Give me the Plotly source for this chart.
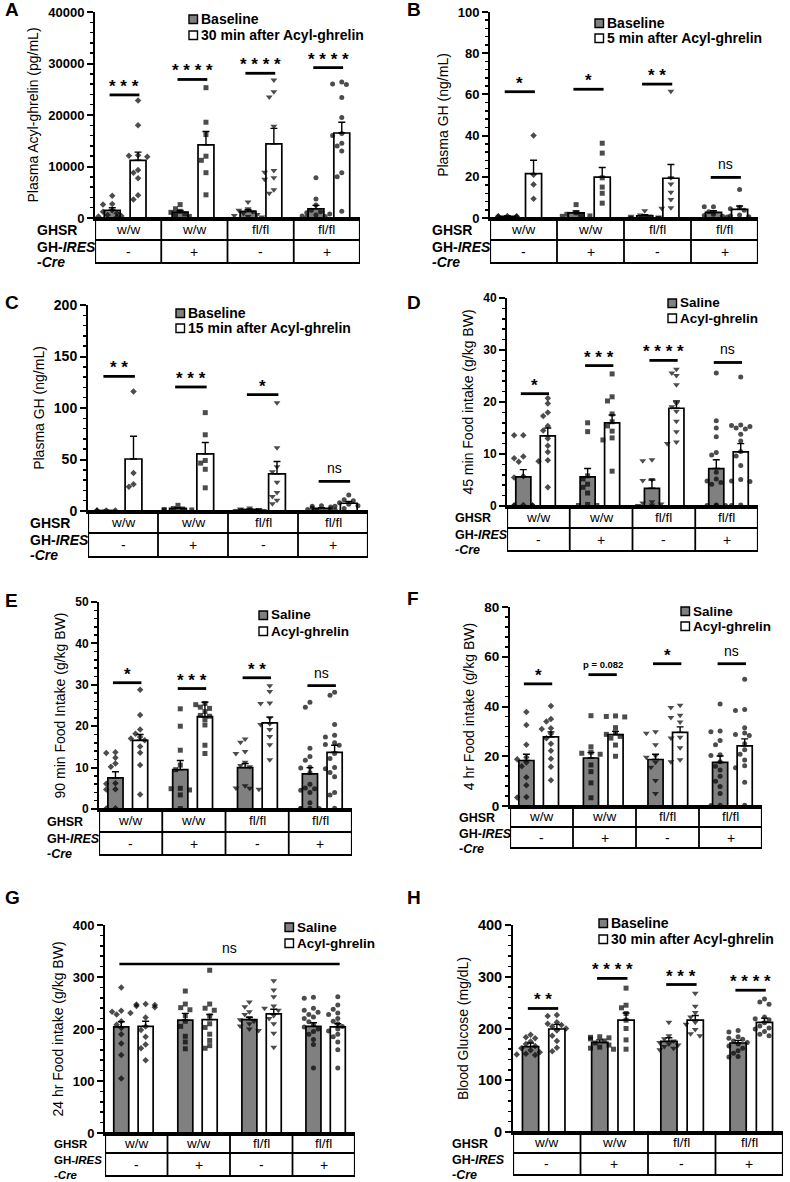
import plotly.graph_objects as go

W, H = 790, 1182
FONT = "Liberation Sans, Arial, sans-serif"

# ---------------- shared table rows ----------------
GHSR = ["w/w", "w/w", "fl/fl", "fl/fl"]
GH_IRES_CRE = ["-", "+", "-", "+"]

# ---------------- Panel A ----------------
A_ylabel = "Plasma Acyl-ghrelin (pg/mL)"
A_series = ["Baseline", "30 min after Acyl-ghrelin"]
A_base_mean = [1500, 1150, 1300, 1800]
A_base_sem = [500, 300, 350, 650]
A_base_pts = [[4300, 2700, 2600, 1500, 1200, 900, 600, 400, 300, 200],
              [2600, 1800, 1300, 1100, 800, 500, 300],
              [3100, 1800, 1500, 1200, 900, 700, 500, 300, 200],
              [7800, 3700, 2500, 1500, 1200, 1000, 800, 600, 400, 300, 200]]
A_trt_mean = [11200, 14200, 14400, 16500]
A_trt_sem = [1600, 2600, 3000, 2100]
A_trt_pts = [[22800, 18000, 12200, 12100, 11900, 9300, 8800, 7700, 4400, 3600],
             [25300, 18600, 16200, 12000, 11200, 8800, 4500],
             [26800, 24500, 23500, 17800, 9200, 8900, 7800, 7500, 5500, 4800],
             [26400, 26000, 25900, 23400, 19500, 16400, 16000, 14500, 14000, 13000, 8800, 8000, 1300]]
A_sig = ["***", "****", "****", "****"]
A_sig_y = [23900, 26900, 28100, 29200]

# ---------------- Panel B ----------------
B_ylabel = "Plasma GH (ng/mL)"
B_series = ["Baseline", "5 min after Acyl-ghrelin"]
B_base_mean = [0.8, 2.5, 1.1, 2.7]
B_base_sem = [0.2, 0.9, 0.5, 0.8]
B_base_pts = [[1.0, 0.9, 0.8, 0.7, 0.6],
              [6.5, 2.5, 1.8, 1.2, 1.0, 0.8],
              [3.5, 1.5, 1.0, 0.8, 0.5, 0.3, 0.2],
              [5.5, 5.5, 3.0, 1.8, 1.2, 0.8, 0.5]]
B_trt_mean = [21.5, 19.8, 19.3, 4.2]
B_trt_sem = [6.5, 4.7, 6.7, 1.6]
B_trt_pts = [[40, 21, 16.3, 9.4],
             [36.3, 31.5, 19.5, 15, 12, 7.2],
             [61.5, 19.5, 16.5, 12.5, 9, 5, 4.7],
             [13.8, 5.2, 4.5, 3.8, 1.5, 1.0, 0.6]]
B_sig = ["*", "*", "**", "ns"]
B_sig_y = [61.3, 62.5, 65, 19.7]

# ---------------- Panel C ----------------
C_ylabel = "Plasma GH (ng/mL)"
C_series = ["Baseline", "15 min after Acyl-ghrelin"]
C_base_mean = [0.5, 2.5, 1.5, 2.5]
C_base_sem = [0.1, 0.8, 0.4, 0.6]
C_base_pts = [[0.6, 0.5, 0.5, 0.4],
              [5.5, 2.5, 2.0, 1.5, 1.0, 0.5],
              [3.0, 2.0, 1.5, 1.0, 1.0, 0.5, 0.5],
              [5.0, 4.5, 4.0, 3.0, 2.0, 1.5, 1.0, 0.5]]
C_trt_mean = [50.5, 55.5, 36, 7.5]
C_trt_sem = [22, 11, 12, 1.8]
C_trt_pts = [[116, 37, 26, 23.5],
             [95.5, 74, 49, 46.5, 40.5, 22.5],
             [105, 61.5, 43, 38, 28, 18, 14, 10.5, 7],
             [15.5, 11, 10, 8, 6.5, 5, 4.5, 2.5]]
C_sig = ["**", "***", "*", "ns"]
C_sig_y = [130.7, 120.4, 113, 28.8]

# ---------------- Panel D ----------------
D_ylabel = "45 min Food intake (g/kg BW)"
D_series = ["Saline", "Acyl-ghrelin"]
D_base_mean = [5.6, 5.6, 3.4, 7.2]
D_base_sem = [1.4, 1.6, 1.6, 1.7]
D_base_pts = [[13.6, 13.6, 9.5, 9.2, 8.5, 5.7, 5.5, 0.2, 0.1, 0.1, 0.1, 0.1],
              [16, 14.3, 5.8, 5.2, 4.2, 3.6, 2.5, 0.3, 0.1, 0.1],
              [8.9, 8.7, 5.1, 4.9, 0.8, 0.6, 0.4, 0.2, 0.1],
              [25.6, 16.4, 15, 13.3, 10.3, 9.8, 6.5, 5.2, 4.8, 4.5, 4.2, 0.2, 0.1, 0.1, 0.1]]
D_trt_mean = [13.5, 16, 18.8, 10.4]
D_trt_sem = [1.5, 1.5, 1.4, 1.6]
D_trt_pts = [[20.7, 19.7, 18, 17.3, 15.4, 14.5, 13, 11.6, 10.4, 8.8, 8.6, 3.6],
             [25.4, 21, 20.2, 17.7, 16.2, 15.4, 14.4, 13.1, 12.7, 6.7],
             [26.3, 25.6, 25.1, 23.3, 19.7, 19.1, 18.2, 16.3, 14.3, 12.3, 12],
             [24.8, 15.6, 15.5, 15.3, 15, 14.8, 13.8, 12.5, 10.5, 9.6, 7.8, 5.1, 4.8, 4.7, 0.2, 0.1]]
D_sig = ["*", "***", "****", "ns"]
D_sig_y = [21.6, 27, 28, 27.6]

# ---------------- Panel E ----------------
E_ylabel = "90 min Food Intake (g/kg BW)"
E_series = ["Saline", "Acyl-ghrelin"]
E_base_mean = [7.5, 9.5, 10, 8.5]
E_base_sem = [1.5, 2.2, 1.0, 1.5]
E_base_pts = [[13.7, 13.5, 12.4, 11, 10.2, 6.2, 6.1, 4.8, 4.7, 0.2, 0.1],
              [24.2, 20, 14.2, 10.6, 9.5, 5, 4.9, 4.6, 3.4, 0.1],
              [16.9, 16.1, 13.9, 13.4, 11.3, 10.5, 10.2, 5.6, 5.1, 5, 4.8],
              [25.8, 24.6, 14.7, 12.7, 11.8, 10.1, 9.9, 8.8, 6, 5.1, 4.9, 4.5, 4, 1.5, 0.2, 0.1, 0.1, 0.1]]
E_trt_mean = [16.6, 22.3, 20.8, 13.7]
E_trt_sem = [1.4, 3.5, 1.4, 1.7]
E_trt_pts = [[28.8, 22.7, 19.2, 18.2, 17.4, 17, 16.6, 15.1, 13.6, 10.6, 3.5],
             [25.5, 25.2, 24.6, 24.3, 23.5, 22.6, 22.4, 21.6, 20.3, 15.4, 13.4],
             [29.8, 28.4, 25.6, 25.5, 22, 20.6, 20.4, 19.2, 17.5, 15.5, 11.9],
             [28.2, 27.5, 20.4, 17.8, 17.4, 16, 15.6, 15.4, 13.4, 12.2, 10, 9.7, 8.8, 7.8, 4, 3.4, 0.2]]
E_sig = ["*", "***", "**", "ns"]
E_sig_y = [30.5, 29.1, 31.7, 29.8]

# ---------------- Panel F ----------------
F_ylabel = "4 hr Food intake (g/kg BW)"
F_series = ["Saline", "Acyl-ghrelin"]
F_base_mean = [18.3, 19.3, 18.7, 17.5]
F_base_sem = [2.5, 2.2, 2.1, 2.6]
F_base_pts = [[37.8, 32.6, 24.6, 19.6, 18.8, 17.5, 16, 11.6, 8.3, 3.6, 3.4],
              [36.3, 23.8, 21.6, 21.2, 20.8, 16.5, 13.8, 9.3, 3.3],
              [29.8, 29.2, 24.6, 20.2, 19.6, 17.6, 15.6, 10.3, 5],
              [41, 30.2, 29.8, 26.3, 24.6, 20.6, 20.3, 17.8, 16, 14.5, 12, 10, 7.8, 5, 0.3, 0.2]]
F_trt_mean = [27.8, 28.7, 29.6, 24.2]
F_trt_sem = [2.0, 1.3, 2.2, 2.8]
F_trt_pts = [[40.2, 35, 34, 31.3, 31, 29, 27.2, 25, 22.2, 19, 15.8, 10.4],
             [36.2, 36, 35.8, 31.5, 29.4, 28.8, 28, 27.3, 24.5, 20],
             [40.5, 39.6, 36.5, 35.6, 33.8, 27.6, 27.3, 23.4, 18.6, 17.8],
             [51, 38.8, 38.4, 31.5, 29.3, 28.7, 28.3, 25, 22.6, 20.8, 18.5, 16.2, 15.4, 9.5, 0.3]]
F_sig = ["*", "p = 0.082", "*", "ns"]
F_sig_y = [49.1, 52.8, 57.2, 57.2]

# ---------------- Panel G ----------------
G_ylabel = "24 hr Food intake (g/kg BW)"
G_series = ["Saline", "Acyl-ghrelin"]
G_base_mean = [204, 217, 218, 205]
G_base_sem = [10, 13, 4, 7]
G_base_pts = [[280, 235, 233, 231, 228, 215, 208, 202, 190, 172, 150, 105],
              [273, 248, 241, 237, 226, 215, 205, 186, 175, 162],
              [252, 243, 233, 228, 222, 218, 215, 210, 206, 200, 197],
              [261, 259, 240, 236, 232, 228, 223, 220, 214, 208, 204, 200, 195, 190, 180, 170, 125]]
G_trt_mean = [205, 218, 229, 204]
G_trt_sem = [10, 10, 9, 6]
G_trt_pts = [[248, 247, 246, 244, 242, 222, 205, 198, 185, 170, 163, 140],
             [313, 248, 240, 236, 225, 210, 203, 190, 178, 168, 163],
             [293, 275, 262, 244, 240, 236, 226, 220, 210, 192, 165],
             [262, 246, 238, 231, 228, 220, 215, 210, 205, 200, 196, 190, 185, 175, 160, 125]]
G_sig = ["ns"]
G_sig_y = [325]

# ---------------- Panel H ----------------
H_ylabel = "Blood Glucose (mg/dL)"
H_series = ["Baseline", "30 min after Acyl-ghrelin"]
H_base_mean = [165, 173, 175, 172]
H_base_sem = [7, 5, 7, 5]
H_base_pts = [[188, 183, 181, 175, 170, 166, 162, 158, 154, 151, 150, 149],
              [184, 183, 182, 180, 176, 172, 168, 164, 162, 160],
              [212, 186, 180, 176, 173, 170, 168, 165, 162, 159],
              [196, 193, 184, 181, 179, 176, 173, 170, 166, 162, 157, 152, 146, 145]]
H_trt_mean = [199, 216, 216, 212]
H_trt_sem = [9, 14, 9, 8]
H_trt_pts = [[226, 224, 212, 209, 207, 204, 200, 196, 186, 176, 163, 156],
             [278, 245, 240, 229, 216, 200, 178, 160],
             [268, 243, 231, 222, 212, 208, 198, 190, 186],
             [257, 251, 247, 222, 219, 217, 211, 205, 201, 199, 194, 189, 186]]
H_sig = ["**", "****", "***", "****"]
H_sig_y = [238.7, 296.8, 285, 274]

# ---------------- layout geometry (pixels) ----------------
# tf: tick font size, rf: row-label font size, gf: legend font size
PANELS = [
    dict(L="A", x0=95, x1=360, yt=12, y0=218, ymax=40000, dt=10000, mdt=2000, r1=240, r2=263, lx=35, sx=189, ly=(19, 35), pos=(3, 10), tf=13, rf=14, gf=14),
    dict(L="B", x0=490, x1=758, yt=12, y0=218, ymax=100, dt=20, mdt=4, r1=240, r2=263, lx=430, sx=595, ly=(23, 38), pos=(405, 10), tf=13, rf=14, gf=14),
    dict(L="C", x0=88, x1=368, yt=305, y0=511, ymax=200, dt=50, mdt=10, r1=533, r2=557, lx=28, sx=176, ly=(313, 328), pos=(3, 302), tf=14, rf=14, gf=14),
    dict(L="D", x0=507, x1=758, yt=298, y0=506, ymax=40, dt=10, mdt=2, r1=528, r2=551, lx=453, sx=668, ly=(303, 318), pos=(405, 302), tf=12, rf=12.5, gf=13.5),
    dict(L="E", x0=99, x1=352, yt=602, y0=809, ymax=50, dt=10, mdt=2, r1=832, r2=855, lx=45, sx=259, ly=(615, 631), pos=(3, 600), tf=12, rf=12.5, gf=13.5),
    dict(L="F", x0=510, x1=762, yt=607, y0=806, ymax=80, dt=20, mdt=4, r1=827, r2=848, lx=457, sx=681, ly=(611, 626), pos=(405, 598), tf=13.5, rf=12.5, gf=13.5),
    dict(L="G", x0=105, x1=355, yt=925, y0=1133, ymax=400, dt=100, mdt=20, r1=1153, r2=1176, lx=52, sx=285, ly=(927, 943), pos=(3, 897), tf=13, rf=11.5, gf=13.5),
    dict(L="H", x0=513, x1=783, yt=925, y0=1132, ymax=400, dt=100, mdt=20, r1=1153, r2=1175, lx=450, sx=599, ly=(923, 939), pos=(405, 897), tf=14.5, rf=12.5, gf=14),
]
DATA = {
    "A": (A_ylabel, A_series, A_base_mean, A_base_sem, A_base_pts, A_trt_mean, A_trt_sem, A_trt_pts, A_sig, A_sig_y),
    "B": (B_ylabel, B_series, B_base_mean, B_base_sem, B_base_pts, B_trt_mean, B_trt_sem, B_trt_pts, B_sig, B_sig_y),
    "C": (C_ylabel, C_series, C_base_mean, C_base_sem, C_base_pts, C_trt_mean, C_trt_sem, C_trt_pts, C_sig, C_sig_y),
    "D": (D_ylabel, D_series, D_base_mean, D_base_sem, D_base_pts, D_trt_mean, D_trt_sem, D_trt_pts, D_sig, D_sig_y),
    "E": (E_ylabel, E_series, E_base_mean, E_base_sem, E_base_pts, E_trt_mean, E_trt_sem, E_trt_pts, E_sig, E_sig_y),
    "F": (F_ylabel, F_series, F_base_mean, F_base_sem, F_base_pts, F_trt_mean, F_trt_sem, F_trt_pts, F_sig, F_sig_y),
    "G": (G_ylabel, G_series, G_base_mean, G_base_sem, G_base_pts, G_trt_mean, G_trt_sem, G_trt_pts, G_sig, G_sig_y),
    "H": (H_ylabel, H_series, H_base_mean, H_base_sem, H_base_pts, H_trt_mean, H_trt_sem, H_trt_pts, H_sig, H_sig_y),
}

SYMBOLS = ["diamond", "square", "triangle-down", "circle"]
SIZES = [5, 5, 6, 5]
BAR_W = 0.24


def px(x):
    return x / W


def py(y):
    return 1 - y / H


def bar_pos(g, which):
    return 0.455 + 1.025 * g + (-0.195 if which == 0 else 0.195)


def swarm(vals, center, ppx, ppy, d=5.2, step=4.6, maxk=3):
    placed = []
    out = [center] * len(vals)
    order = sorted(range(len(vals)), key=lambda i: -vals[i])
    offs = [0]
    for k in range(1, maxk + 1):
        offs += [-k, k]
    for i in order:
        yy = vals[i] * ppy
        best = None
        for o in offs:
            xx = o * step
            if all((xx - a) ** 2 + (yy - b) ** 2 >= d * d for a, b in placed):
                best = xx
                break
        if best is None:
            best = offs[len(placed) % len(offs)] * step
        placed.append((best, yy))
        out[i] = center + best / ppx
    return out


def note(**kw):
    base = dict(showarrow=False, xanchor="center", yanchor="middle")
    base.update(kw)
    return base


fig = go.Figure()
shapes = []
annos = []
layout_axes = {}

for n, P in enumerate(PANELS, start=1):
    ylabel, series, bm, bs, bp, tm, ts, tp, sig, sigy = DATA[P["L"]]
    xa = "x" if n == 1 else f"x{n}"
    ya = "y" if n == 1 else f"y{n}"
    ppx = (P["x1"] - P["x0"]) / 4.0
    ppy = (P["y0"] - P["yt"]) / P["ymax"]

    for which, (means, sems, pts, color) in enumerate(
            [(bm, bs, bp, "#808080"), (tm, ts, tp, "white")]):
        xs = [bar_pos(g, which) for g in range(4)]
        fig.add_trace(go.Bar(
            x=xs, y=means, width=BAR_W, name=series[which], showlegend=False,
            marker=dict(color=color, line=dict(color="black", width=1.7)),
            error_y=dict(type="data", array=sems, arrayminus=[0] * 4, symmetric=False,
                         color="black", thickness=1.4, width=3.5),
            xaxis=xa, yaxis=ya))
        px_all, py_all, sym, sz = [], [], [], []
        for g in range(4):
            sx = swarm(pts[g], xs[g], ppx, ppy)
            px_all += sx
            py_all += pts[g]
            sym += [SYMBOLS[g]] * len(pts[g])
            sz += [SIZES[g]] * len(pts[g])
        fig.add_trace(go.Scatter(
            x=px_all, y=py_all, mode="markers", showlegend=False, cliponaxis=False,
            marker=dict(symbol=sym, size=sz, color="black", line=dict(width=0)),
            xaxis=xa, yaxis=ya))

    # axes
    tvals = list(range(0, P["ymax"] + 1, P["dt"]))
    layout_axes["xaxis" if n == 1 else f"xaxis{n}"] = dict(
        domain=[px(P["x0"]), px(P["x1"])], range=[0, 4], anchor=ya,
        showline=True, linewidth=2.5, linecolor="black", showticklabels=False,
        ticks="", showgrid=False, zeroline=False, fixedrange=True)
    layout_axes["yaxis" if n == 1 else f"yaxis{n}"] = dict(
        domain=[py(P["y0"]), py(P["yt"])], range=[0, P["ymax"]], anchor=xa,
        showline=True, linewidth=2, linecolor="black", ticks="outside",
        ticklen=6, tickwidth=2, tickcolor="black",
        tickmode="array", tickvals=tvals, ticktext=[f"<b>{v}</b>" for v in tvals],
        showgrid=False, zeroline=False, automargin=False,
        tickfont=dict(family=FONT, size=P["tf"], color="black"),
        minor=dict(tickmode="linear", tick0=0, dtick=P["mdt"], ticks="outside", ticklen=3.5,
                   tickwidth=1.5, tickcolor="black", showgrid=False),
        title=dict(text=ylabel, standoff=6,
                   font=dict(family=FONT, size=14, color="black")))

    # significance
    if len(sig) == 1:
        xa0 = bar_pos(0, 0) - 0.03
        xa1 = bar_pos(3, 1) + 0.03
        shapes.append(dict(type="line", xref=xa, yref=ya, x0=xa0, x1=xa1,
                           y0=sigy[0], y1=sigy[0], line=dict(color="black", width=2.5)))
        annos.append(note(xref=xa, yref=ya, x=(xa0 + xa1) / 2, y=sigy[0], text=sig[0],
                          yanchor="bottom", yshift=6,
                          font=dict(family=FONT, size=14, color="black")))
    else:
        for g in range(4):
            a0 = bar_pos(g, 0) - 0.04
            a1 = bar_pos(g, 1) + 0.02
            shapes.append(dict(type="line", xref=xa, yref=ya, x0=a0, x1=a1,
                               y0=sigy[g], y1=sigy[g], line=dict(color="black", width=2.8)))
            s = sig[g]
            if set(s) == {"*"}:
                txt = "<b>" + " ".join(s) + "</b>"
                fnt = dict(family=FONT, size=17, color="black")
                ys = -3
            elif s == "ns":
                txt = s
                fnt = dict(family=FONT, size=14, color="black")
                ys = 3
            else:
                txt = "<b>" + s + "</b>"
                fnt = dict(family=FONT, size=9.5, color="black")
                ys = 3
            annos.append(note(xref=xa, yref=ya, x=(a0 + a1) / 2, y=sigy[g], text=txt,
                              yanchor="bottom", yshift=ys, font=fnt))

    # table
    yb0, yb1, yb2 = py(P["y0"]), py(P["r1"]), py(P["r2"])
    tl = dict(color="black", width=1.8)
    shapes.append(dict(type="rect", xref=xa, yref="paper", x0=0, x1=4, y0=yb2, y1=yb0,
                       line=dict(color="black", width=2.2)))
    shapes.append(dict(type="line", xref=xa, yref="paper", x0=0, x1=4, y0=yb1, y1=yb1, line=tl))
    for k in range(1, 4):
        shapes.append(dict(type="line", xref=xa, yref="paper", x0=k, x1=k, y0=yb2, y1=yb0, line=tl))
    for g in range(4):
        annos.append(note(xref=xa, yref="paper", x=g + 0.5, y=(yb0 + yb1) / 2, text=GHSR[g],
                          font=dict(family=FONT, size=13.5, color="black")))
        annos.append(note(xref=xa, yref="paper", x=g + 0.5, y=(yb1 + yb2) / 2, text=GH_IRES_CRE[g],
                          font=dict(family=FONT, size=14, color="black")))
    rf = dict(family=FONT, size=P["rf"], color="black")
    annos.append(note(xref="paper", yref="paper", x=px(P["lx"]), y=py((P["y0"] + P["r1"]) / 2 + 1),
                      xanchor="left", text="<b>GHSR</b>", font=rf))
    annos.append(note(xref="paper", yref="paper", x=px(P["lx"]), y=py(P["r1"] + 7),
                      xanchor="left", text="<b>GH-<i>IRES</i></b>", font=rf))
    annos.append(note(xref="paper", yref="paper", x=px(P["lx"]), y=py(P["r1"] + 22),
                      xanchor="left", text="<b><i>-Cre</i></b>", font=rf))

    # legend (drawn)
    for which, color in enumerate(["#808080", "white"]):
        cy = P["ly"][which]
        shapes.append(dict(type="rect", xref="paper", yref="paper",
                           x0=px(P["sx"]), x1=px(P["sx"] + 8.5),
                           y0=py(cy + 4.5), y1=py(cy - 4),
                           fillcolor=color, line=dict(color="black", width=1.4)))
        annos.append(note(xref="paper", yref="paper", x=px(P["sx"] + 10), y=py(cy),
                          xanchor="left", text="<b>" + series[which] + "</b>",
                          font=dict(family=FONT, size=P["gf"], color="black")))

    # panel letter
    annos.append(note(xref="paper", yref="paper", x=px(P["pos"][0]), y=py(P["pos"][1]),
                      xanchor="left", text="<b>" + P["L"] + "</b>",
                      font=dict(family=FONT, size=19, color="black")))

fig.update_layout(
    width=W, height=H, margin=dict(l=0, r=0, t=0, b=0),
    paper_bgcolor="white", plot_bgcolor="white", barmode="overlay",
    showlegend=False, shapes=shapes, annotations=annos,
    font=dict(family=FONT, color="black"),
    **layout_axes)

fig.write_html("out.html", config={"displayModeBar": False, "staticPlot": True},
               post_script="document.body.style.margin='0px';document.body.style.overflow='hidden';")
